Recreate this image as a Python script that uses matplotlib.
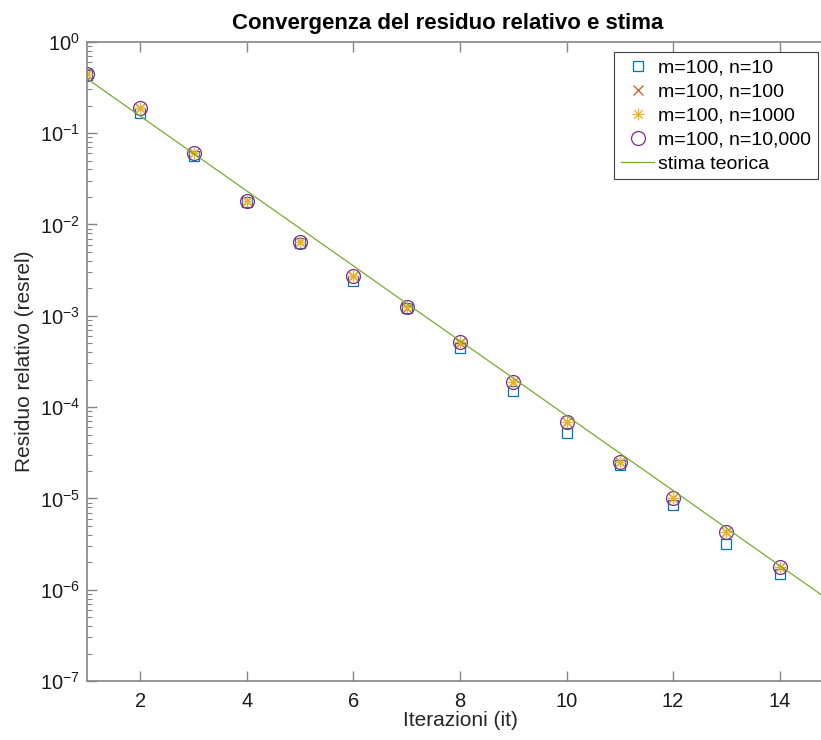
import numpy as np
import matplotlib as mpl
mpl.use('Agg')
import matplotlib.pyplot as plt
from matplotlib.path import Path
from matplotlib.ticker import FixedLocator, LogLocator, NullFormatter

plt.rcParams['font.family'] = ['Liberation Sans', 'DejaVu Sans']
plt.rcParams['mathtext.fontset'] = 'custom'
plt.rcParams['mathtext.rm'] = 'Liberation Sans'
plt.rcParams['mathtext.it'] = 'Liberation Sans:italic'

it = [1, 2, 3, 4, 5, 6, 7, 8, 9, 10, 11, 12, 13, 14]
res_n10 = [0.43, 0.165, 0.056, 0.0175, 0.0063, 0.0024, 1.2e-3, 4.4e-4,
           1.49e-4, 5.2e-5, 2.3e-5, 8.5e-6, 3.2e-6, 1.5e-6]
res_n100 = [0.44, 0.19, 0.060, 0.018, 0.0064, 0.0027, 1.23e-3, 5.0e-4,
            1.9e-4, 6.8e-5, 2.5e-5, 1.02e-5, 4.3e-6, 1.77e-6]
res_n1000 = [0.44, 0.19, 0.061, 0.018, 0.0064, 0.0027, 1.24e-3, 5.1e-4,
             1.9e-4, 6.8e-5, 2.5e-5, 1.02e-5, 4.3e-6, 1.77e-6]
res_n10000 = [0.44, 0.19, 0.061, 0.018, 0.0064, 0.0027, 1.24e-3, 5.1e-4,
              1.9e-4, 6.8e-5, 2.5e-5, 1.02e-5, 4.3e-6, 1.77e-6]

it_stima = [1, 2, 3, 4, 5, 6, 7, 8, 9, 10, 11, 12, 13, 14, 15]
stima = [0.394, 0.153, 0.0596, 0.0232, 0.00902, 0.00351, 0.00136, 5.31e-4,
         2.07e-4, 8.04e-5, 3.13e-5, 1.22e-5, 4.73e-6, 1.84e-6, 7.16e-7]

x_ticks = [2, 4, 6, 8, 10, 12, 14]
y_ticks = [1e-7, 1e-6, 1e-5, 1e-4, 1e-3, 1e-2, 1e-1, 1e0]

# matlab-like asterisk: 4 strokes through the centre
d = 0.7071
asterisk = Path([(-1, 0), (1, 0), (0, -1), (0, 1), (-d, -d), (d, d), (-d, d), (d, -d)],
                [Path.MOVETO, Path.LINETO] * 4)

fig = plt.figure(figsize=(8.21, 7.40), dpi=100)
ax = fig.add_axes([0.106, 0.0797, 0.9085, 0.8639])

ax.semilogy(it, res_n10, 's', color='#0072BD', mfc='none', ms=7, mew=0.9,
            label='m=100, n=10')
ax.semilogy(it, res_n100, 'x', color='#D95319', ms=7, mew=0.9,
            label='m=100, n=100')
ax.semilogy(it, res_n1000, marker=asterisk, ls='none', color='#EDB120', ms=8.5,
            mew=0.9, label='m=100, n=1000')
ax.semilogy(it, res_n10000, 'o', color='#7E2F8E', mfc='none', ms=10, mew=0.9,
            label='m=100, n=10,000')
ax.semilogy(it_stima, stima, '-', color='#77AC30', lw=0.9, label='stima teorica')

ax.set_xlim(1, 15)
ax.set_ylim(1e-7, 1)
ax.set_xticks(x_ticks)
ax.yaxis.set_major_locator(FixedLocator(y_ticks))
ax.yaxis.set_minor_locator(LogLocator(base=10, subs=np.arange(2, 10), numticks=100))
ax.yaxis.set_minor_formatter(NullFormatter())

for s in ax.spines.values():
    s.set_color('#858585')
    s.set_linewidth(1.2)
ax.tick_params(which='both', direction='in', top=True, right=True,
               color='#858585', labelsize=14.5, labelcolor='#1a1a1a')
ax.tick_params(which='major', length=7, width=1)
ax.tick_params(which='minor', length=3.5, width=0.8)
ax.tick_params(axis='x', pad=8)
ax.tick_params(axis='y', pad=5)

ax.set_title('Convergenza del residuo relativo e stima', fontsize=16,
             fontweight='bold', pad=9, x=0.483)
ax.set_xlabel('Iterazioni (it)', fontsize=15, color='#262626', labelpad=0)
ax.set_ylabel('Residuo relativo (resrel)', fontsize=15, color='#262626', labelpad=4)

leg = ax.legend(loc='upper right', bbox_to_anchor=(0.9963, 0.9297),
                bbox_transform=fig.transFigure, fontsize=14, fancybox=False,
                framealpha=1, edgecolor='#404040', borderpad=0.35,
                labelspacing=0.33, handlelength=1.7, handletextpad=0.2,
                borderaxespad=0)
leg.get_frame().set_linewidth(0.8)

fig.savefig('out.png', dpi=100)
